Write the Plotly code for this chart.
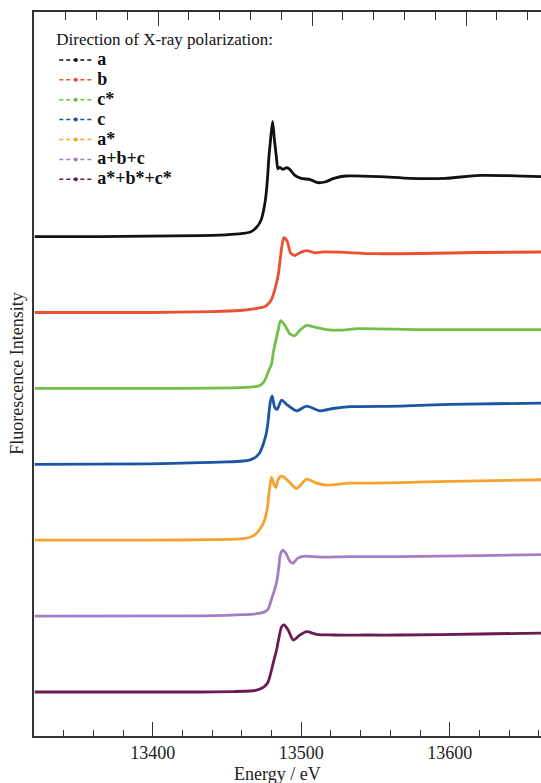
import plotly.graph_objects as go

# Polarization directions, top trace first
labels = ["a", "b", "c*", "c", "a*", "a+b+c", "a*+b*+c*"]
colors = ["#111111", "#E9502F", "#73BF4B", "#1C55A3", "#F5A32E", "#A47DC4", "#6A1B52"]

# Normalized fluorescence spectra (edge step = 1), energy in eV
E_a = [13320.5, 13364.3, 13431.7, 13445.0, 13458.0, 13465.4, 13468.0, 13469.9, 13471.8,
       13473.3, 13475.5, 13476.6, 13477.5, 13478.2, 13479.3, 13480.7, 13482.0, 13483.3,
       13484.3, 13485.6, 13487.6, 13490.3, 13492.3, 13495.7, 13500.0, 13506.0, 13511.0,
       13516.0, 13522.0, 13530.0, 13553.0, 13573.2, 13596.8, 13620.4, 13661.5]
I_a = [0.0, 0.0, 0.017, 0.025, 0.045, 0.072, 0.11, 0.155, 0.22,
       0.30, 0.55, 0.77, 1.05, 1.32, 1.60, 1.92, 1.60, 1.32,
       1.13, 1.155, 1.12, 1.15, 1.12, 1.02, 0.97, 0.95, 0.90,
       0.91, 0.97, 1.01, 1.00, 0.97, 0.97, 1.02, 1.00]

E_b = [13320.5, 13398.0, 13440.0, 13458.6, 13468.0, 13472.5, 13475.5, 13478.0, 13480.0,
       13482.2, 13484.5, 13485.6, 13486.8, 13488.3, 13490.5, 13492.8, 13495.7, 13499.1,
       13503.6, 13509.2, 13514.8, 13526.1, 13548.3, 13580.0, 13620.4, 13661.5]
I_b = [0.0, 0.0, 0.015, 0.033, 0.06, 0.08, 0.10, 0.15, 0.22,
       0.38, 0.63, 0.83, 1.08, 1.245, 1.19, 0.995, 0.95, 0.995,
       1.03, 0.995, 1.01, 1.005, 0.98, 0.983, 1.0, 1.008]

E_cs = [13320.5, 13398.0, 13440.0, 13458.6, 13466.0, 13470.0, 13472.1, 13474.0, 13475.5,
        13477.7, 13480.0, 13481.1, 13482.9, 13484.5, 13486.1, 13489.0, 13492.3, 13495.7,
        13499.1, 13503.6, 13509.2, 13517.1, 13526.1, 13538.4, 13580.0, 13620.4, 13661.5]
I_cs = [0.0, 0.0, 0.005, 0.012, 0.022, 0.035, 0.05, 0.085, 0.133,
        0.27, 0.41, 0.58, 0.80, 0.97, 1.13, 1.05, 0.91, 0.88,
        0.97, 1.05, 1.02, 0.98, 0.97, 0.995, 0.98, 0.98, 0.98]

E_c = [13320.5, 13398.0, 13431.7, 13450.0, 13460.9, 13465.0, 13467.6, 13470.0, 13472.1,
       13474.4, 13476.6, 13477.7, 13478.4, 13479.3, 13480.4, 13482.2, 13483.8, 13486.8,
       13490.1, 13496.9, 13503.6, 13512.6, 13521.5, 13532.8, 13566.5, 13600.2, 13661.5]
I_c = [0.0, 0.008, 0.028, 0.04, 0.055, 0.07, 0.095, 0.135, 0.195,
       0.333, 0.53, 0.72, 0.89, 1.055, 1.14, 0.945, 0.917, 1.07,
       1.0, 0.89, 0.97, 0.89, 0.93, 0.96, 0.97, 1.0, 1.02]

E_as = [13320.5, 13398.0, 13440.0, 13460.9, 13465.0, 13467.6, 13470.0, 13472.1, 13474.0,
        13475.5, 13476.6, 13477.7, 13478.2, 13478.9, 13480.0, 13481.6, 13482.9, 13484.5,
        13486.8, 13491.2, 13496.9, 13503.6, 13510.3, 13517.1, 13532.8, 13548.3, 13566.5,
        13600.2, 13661.5]
I_as = [0.0, 0.0, 0.01, 0.028, 0.045, 0.072, 0.115, 0.183, 0.26,
        0.35, 0.46, 0.63, 0.77, 0.905, 1.045, 0.933, 0.878, 1.017,
        1.07, 0.99, 0.86, 1.017, 0.95, 0.917, 0.95, 0.95, 0.96,
        0.98, 1.008]

E_abc = [13320.5, 13431.7, 13462.0, 13470.0, 13474.4, 13476.2, 13477.7, 13480.0, 13482.2,
         13483.8, 13484.9, 13485.9, 13487.6, 13489.6, 13492.3, 13494.4, 13497.7, 13502.5,
         13512.6, 13532.8, 13566.5, 13620.4, 13661.5]
I_abc = [0.0, 0.005, 0.025, 0.04, 0.062, 0.085, 0.117, 0.283, 0.45,
         0.617, 0.82, 1.02, 1.10, 1.05, 0.917, 0.883, 0.967, 1.0,
         0.983, 0.99, 0.99, 1.008, 1.025]

E_sum = [13320.5, 13431.7, 13455.0, 13465.4, 13470.0, 13473.3, 13475.8, 13477.7, 13480.0,
         13481.6, 13483.4, 13484.9, 13486.8, 13488.5, 13491.2, 13494.6, 13499.1, 13503.6,
         13510.3, 13521.5, 13544.0, 13566.5, 13620.4, 13661.5]
I_sum = [0.0, 0.0, 0.008, 0.017, 0.032, 0.062, 0.105, 0.17, 0.367,
         0.533, 0.70, 0.895, 1.088, 1.117, 1.033, 0.867, 0.95, 1.005,
         0.962, 0.95, 0.95, 0.95, 0.967, 0.983]

energies = [E_a, E_b, E_cs, E_c, E_as, E_abc, E_sum]
intensities = [I_a, I_b, I_cs, I_c, I_as, I_abc, I_sum]

# vertical spacing between stacked spectra
step = 1.265
n = len(labels)

serif = "Liberation Serif, Times New Roman, Times, serif"
fig = go.Figure()

for k, (lab, col, ex, iy) in enumerate(zip(labels, colors, energies, intensities)):
    shift = (n - 1 - k) * step
    fig.add_trace(go.Scatter(
        x=ex, y=[v + shift for v in iy], mode="lines",
        line=dict(color=col, width=2.8, shape="spline", smoothing=0.7),
        legendgroup=lab, showlegend=False, hoverinfo="skip"))

# legend entries: dashed line with point markers (on the top axis overlay)
for lab, col in zip(labels, colors):
    fig.add_trace(go.Scatter(
        x=[None], y=[None], xaxis="x2", mode="lines+markers",
        name=f'<span style="font-size:18px"><b>{lab}</b></span>',
        legendgroup=lab,
        line=dict(color=col, width=1.5, dash="4px,3px"),
        marker=dict(color=col, size=4)))

axis_col = "#333333"
fig.update_layout(
    width=541, height=783,
    margin=dict(l=34, r=0, t=12, b=47),
    paper_bgcolor="white", plot_bgcolor="white",
    font=dict(family=serif, size=18, color="#222222"),
    showlegend=True,
    legend=dict(
        x=0.04, y=0.985, xanchor="left", yanchor="top",
        bgcolor="rgba(0,0,0,0)", borderwidth=0,
        font=dict(family=serif, size=13, color="#111111"),
        title=dict(text="Direction of X-ray polarization:",
                   font=dict(family=serif, size=17, color="#111111"), side="top"),
        tracegroupgap=0, itemwidth=33,
    ),
    xaxis=dict(
        range=[13320, 13661.5], showgrid=False, zeroline=False,
        showline=True, linecolor=axis_col, linewidth=1.5,
        ticks="inside", ticklen=14, tickwidth=1.4, tickcolor=axis_col,
        tickmode="linear", tick0=13400, dtick=100, tickformat="d",
        minor=dict(ticks="inside", ticklen=6, tickwidth=1.2, tickcolor=axis_col, dtick=20),
        tickfont=dict(family=serif, size=18, color="#222222"),
    ),
    xaxis2=dict(
        overlaying="x", side="top", anchor="y",
        range=[0.974, 17.435], autorange=False, showgrid=False, zeroline=False,
        showline=True, linecolor=axis_col, linewidth=1.5,
        ticks="inside", ticklen=14, tickwidth=1.4, tickcolor=axis_col,
        tickmode="linear", tick0=0, dtick=5, showticklabels=False,
        minor=dict(ticks="inside", ticklen=8, tickwidth=1.2, tickcolor=axis_col,
                   tickmode="linear", tick0=0, dtick=1),
    ),
    yaxis=dict(
        range=[-0.733, 11.333], showgrid=False, zeroline=False,
        showline=True, linecolor=axis_col, linewidth=1.5,
        ticks="", showticklabels=False,
    ),
    annotations=[
        dict(text="Energy / eV", xref="paper", yref="paper", x=0.481, y=-0.052,
             xanchor="center", yanchor="middle", showarrow=False,
             font=dict(family=serif, size=18, color="#222222")),
        dict(text="Fluorescence Intensity", xref="paper", yref="paper", x=-0.034, y=0.5,
             xanchor="center", yanchor="middle", textangle=-90, showarrow=False,
             font=dict(family=serif, size=18, color="#222222")),
    ],
)

fig.write_html("out.html")
